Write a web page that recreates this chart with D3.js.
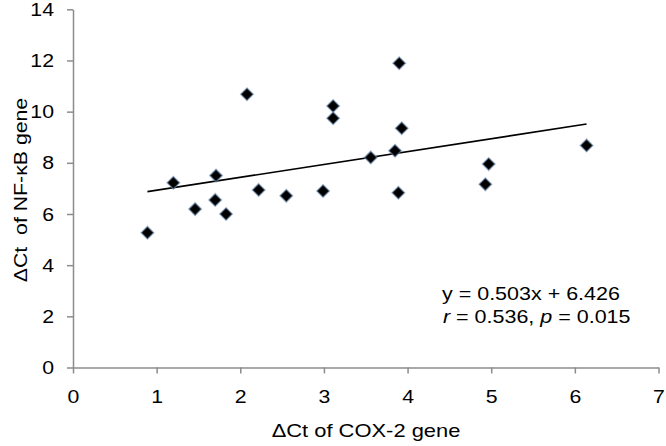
<!DOCTYPE html>
<html>
<head>
<meta charset="utf-8">
<script src="https://cdn.jsdelivr.net/npm/d3@7"></script>
<style>
  body { margin: 0; background: #fff; }
  text { font-family: "Liberation Sans", Arial, sans-serif; fill: #000; }
</style>
</head>
<body>
<div class="chart"></div>
<script>
// ΔCt values
const cox2 = [0.89, 1.20, 1.46, 1.71, 1.70, 1.83, 2.08, 2.22, 2.55, 2.99, 3.11, 3.11,
  3.56, 3.85, 3.89, 3.90, 3.93, 4.93, 4.97, 6.14];
const nfkb = [5.27, 7.22, 6.19, 7.50, 6.55, 6.00, 10.68, 6.94, 6.71, 6.90, 10.22, 9.74,
  8.21, 8.47, 6.83, 11.89, 9.35, 7.16, 7.95, 8.68];
const xTicks = [0, 1, 2, 3, 4, 5, 6, 7];
const yTicks = [0, 2, 4, 6, 8, 10, 12, 14];
const slope = 0.503, intercept = 6.426;

let width = 666, height = 446;
let margin = { left: 73, right: 7.5, top: 9.3, bottom: 78.5 };
let stretch = 1.12; // the source text is a bit wider than Arial
let fs = '19px';

let svg = d3.select('.chart').append('svg')
  .attr('width', width).attr('height', height);

let x = d3.scaleLinear().domain([0, 7]).range([margin.left, width - margin.right]);
let y = d3.scaleLinear().domain([0, 14]).range([height - margin.bottom, margin.top]);

let xAxis = svg.append('g')
  .attr('transform', `translate(0, ${y(0)})`)
  .call(d3.axisBottom(x).tickValues(xTicks).tickFormat(d3.format('d'))
    .tickSize(6).tickSizeOuter(0).tickPadding(16));
let yAxis = svg.append('g')
  .attr('transform', `translate(${x(0)}, 0)`)
  .call(d3.axisLeft(y).tickValues(yTicks).tickFormat(d3.format('d'))
    .tickSize(6).tickSizeOuter(0).tickPadding(13));

[xAxis, yAxis].forEach(g => {
  g.selectAll('path, line').attr('stroke', '#8c8c8c').attr('stroke-width', 1.5);
  g.selectAll('text').style('font-size', fs).attr('fill', '#000')
    .style('font-family', '"Liberation Sans", Arial, sans-serif');
});
// widen tick labels without moving their anchors
yAxis.selectAll('text')
  .attr('transform', function () { return `translate(${+d3.select(this).attr('x')}, 0) scale(${stretch}, 1)`; })
  .attr('x', 0);
xAxis.selectAll('text').attr('transform', `scale(${stretch}, 1)`);

// trend line across the data range
let [x0, x1] = d3.extent(cox2);
svg.append('line')
  .attr('x1', x(x0)).attr('y1', y(slope * x0 + intercept))
  .attr('x2', x(x1)).attr('y2', y(slope * x1 + intercept))
  .attr('stroke', '#000').attr('stroke-width', 1.6);

let diamond = d3.symbol().type(d3.symbolDiamond2).size(100);
svg.selectAll('.pt')
  .data(cox2.map((d, i) => [d, nfkb[i]]))
  .enter().append('path')
  .attr('class', 'pt')
  .attr('d', diamond)
  .attr('transform', d => `translate(${x(d[0])}, ${y(d[1])})`)
  .attr('fill', '#000')
  .attr('stroke', '#6f8db3')
  .attr('stroke-opacity', 0.6)
  .attr('stroke-width', 1.5);

// equation
svg.append('text')
  .attr('transform', `translate(442, 300) scale(${stretch * 1.01}, 1)`)
  .style('font-size', fs).text(`y = ${slope}x + ${intercept}`);
let stat = svg.append('text')
  .attr('transform', `translate(443, 323) scale(${stretch * 1.01}, 1)`)
  .style('font-size', fs);
stat.append('tspan').style('font-style', 'italic').text('r');
stat.append('tspan').text(' = 0.536, ');
stat.append('tspan').style('font-style', 'italic').text('p');
stat.append('tspan').text(' = 0.015');

// axis titles
svg.append('text')
  .attr('transform', `translate(366, 437) scale(${stretch * 1.03}, 1)`)
  .attr('text-anchor', 'middle').style('font-size', fs)
  .text('ΔCt of COX-2 gene');
svg.append('text')
  .attr('transform', `translate(27, 190) rotate(-90) scale(${stretch}, 1)`)
  .attr('text-anchor', 'middle').style('font-size', fs)
  .style('white-space', 'pre')
  .text('ΔCt  of NF-κB gene');
</script>
</body>
</html>
